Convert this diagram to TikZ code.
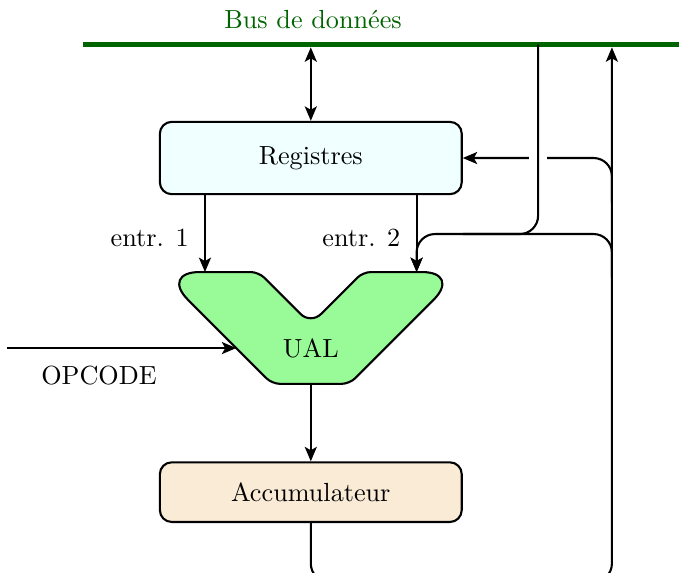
\documentclass[tikz,border=0pt]{standalone}
\usepackage{tikz}
\usetikzlibrary{arrows.meta}
\usetikzlibrary{positioning}

\definecolor{busgreen}{RGB}{0,100,0}
\definecolor{regfill}{RGB}{240,255,255}
\definecolor{accfill}{RGB}{250,235,215}
\definecolor{ualfill}{RGB}{152,251,152}

\begin{document}
\begin{tikzpicture}[>={Stealth[length=5.5pt,width=4.6pt,inset=1.3pt]},thick,
  bloc/.style={draw,rounded corners=4.5pt,minimum width=4.05cm,inner sep=0pt},
  liaison/.style={->,rounded corners=7pt}]
  \useasboundingbox (-4.17,-5.557) rectangle (4.94,2.12);
  % bus de donnees
  \coordinate (busG) at (-3.05,1.52);
  \coordinate (busD) at (5.3,1.52);
  \draw[busgreen,line width=2pt](busG)--(busD);
  \node[busgreen] (bus) at (0.03,1.86) {Bus de données};
  \coordinate (busR) at (0,1.485);
  \coordinate (busA) at (3.05,1.52);
  \coordinate (busB) at (4.04,1.485);

  \node[bloc,fill=regfill,minimum height=0.97cm] (reg) at (0,0) {Registres};
  \node[bloc,fill=accfill,minimum height=0.8cm] (acc) at (0,-4.483) {Accumulateur};

  % UAL
  \draw[fill=ualfill](-1.36,-1.53)[rounded corners=3pt]--(-0.7,-1.53)
    [rounded corners=5.5pt]--(0,-2.23)[rounded corners=3pt]--(0.7,-1.53)
    [rounded corners=15pt]--(2.02,-1.53)[rounded corners=3pt]--(0.52,-3.03)
    --(-0.52,-3.03)[rounded corners=15pt]--(-2.02,-1.53)[sharp corners]--cycle;
  \node (ual) at (0,-2.56) {UAL};
  \coordinate (ualE1) at (-1.42,-1.53);
  \coordinate (ualE2) at (1.42,-1.53);
  \coordinate (ualS) at (0,-3.03);
  \coordinate (ualO) at (-1,-2.55);
  \coordinate (opc) at (-4.07,-2.55);
  \coordinate (jonc) at (1.42,-1.02);
  \coordinate (retC) at (4.04,-1.6);
  \coordinate (retD) at (4.04,-0.6);

  \draw[<->](busR)--(reg.north);
  \draw[->](reg.south -| ualE1)--(ualE1) node[pos=0.55,left=2.5pt]{entr. 1};
  \draw[->](reg.south -| ualE2)--(ualE2) node[pos=0.55,left=2.5pt]{entr. 2};
  \draw[->](opc)--(ualO) node[pos=0.4,below=3pt]{OPCODE};
  \draw[->](ualS)--(acc.north);

  % retours
  \draw[liaison](acc.south)--++(0,-0.79)-|(busB);
  \draw[liaison](retD)|-(reg.east);
  \draw[white,line width=7pt](3.05,0.12)--(3.05,-0.12);
  \draw[rounded corners=7pt](retC)|-(reg.east |- jonc);
  \draw[liaison](busA)|-(jonc)--(ualE2);
\end{tikzpicture}
\end{document}
